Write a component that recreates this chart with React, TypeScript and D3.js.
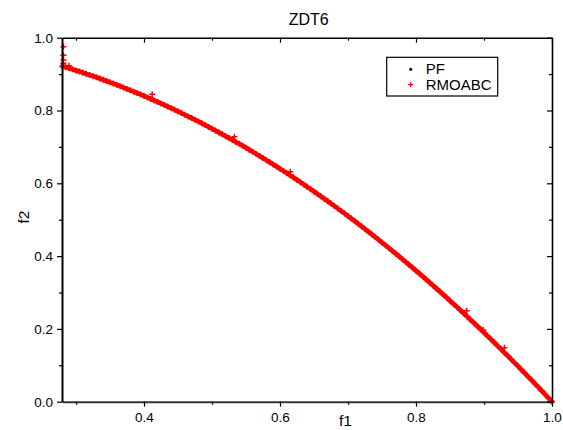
import React, { useEffect, useRef } from "react";
import * as d3 from "d3";

// RMOABC solutions (f1, f2); the first 145 sit on the front
const rmoF1 = [
  0.280, 0.285, 0.290, 0.295, 0.300, 0.305, 0.310, 0.315, 0.320, 0.325,
  0.330, 0.335, 0.340, 0.345, 0.350, 0.355, 0.360, 0.365, 0.370, 0.375,
  0.380, 0.385, 0.390, 0.395, 0.400, 0.405, 0.410, 0.415, 0.420, 0.425,
  0.430, 0.435, 0.440, 0.445, 0.450, 0.455, 0.460, 0.465, 0.470, 0.475,
  0.480, 0.485, 0.490, 0.495, 0.500, 0.505, 0.510, 0.515, 0.520, 0.525,
  0.530, 0.535, 0.540, 0.545, 0.550, 0.555, 0.560, 0.565, 0.570, 0.575,
  0.580, 0.585, 0.590, 0.595, 0.600, 0.605, 0.610, 0.615, 0.620, 0.625,
  0.630, 0.635, 0.640, 0.645, 0.650, 0.655, 0.660, 0.665, 0.670, 0.675,
  0.680, 0.685, 0.690, 0.695, 0.700, 0.705, 0.710, 0.715, 0.720, 0.725,
  0.730, 0.735, 0.740, 0.745, 0.750, 0.755, 0.760, 0.765, 0.770, 0.775,
  0.780, 0.785, 0.790, 0.795, 0.800, 0.805, 0.810, 0.815, 0.820, 0.825,
  0.830, 0.835, 0.840, 0.845, 0.850, 0.855, 0.860, 0.865, 0.870, 0.875,
  0.880, 0.885, 0.890, 0.895, 0.900, 0.905, 0.910, 0.915, 0.920, 0.925,
  0.930, 0.935, 0.940, 0.945, 0.950, 0.955, 0.960, 0.965, 0.970, 0.975,
  0.980, 0.985, 0.990, 0.995, 1.000,
  // stragglers off the front
  0.2815, 0.2815, 0.2815, 0.2815, 0.2897, 0.412, 0.533, 0.615, 0.8745, 0.899, 0.930,
];
const rmoF2 = [
  0.9216, 0.9188, 0.9159, 0.9130, 0.9100, 0.9070, 0.9039, 0.9008, 0.8976, 0.8944,
  0.8911, 0.8878, 0.8844, 0.8810, 0.8775, 0.8740, 0.8704, 0.8668, 0.8631, 0.8594,
  0.8556, 0.8518, 0.8479, 0.8440, 0.8400, 0.8360, 0.8319, 0.8278, 0.8236, 0.8194,
  0.8151, 0.8108, 0.8064, 0.8020, 0.7975, 0.7930, 0.7884, 0.7838, 0.7791, 0.7744,
  0.7696, 0.7648, 0.7599, 0.7550, 0.7500, 0.7450, 0.7399, 0.7348, 0.7296, 0.7244,
  0.7191, 0.7138, 0.7084, 0.7030, 0.6975, 0.6920, 0.6864, 0.6808, 0.6751, 0.6694,
  0.6636, 0.6578, 0.6519, 0.6460, 0.6400, 0.6340, 0.6279, 0.6218, 0.6156, 0.6094,
  0.6031, 0.5968, 0.5904, 0.5840, 0.5775, 0.5710, 0.5644, 0.5578, 0.5511, 0.5444,
  0.5376, 0.5308, 0.5239, 0.5170, 0.5100, 0.5030, 0.4959, 0.4888, 0.4816, 0.4744,
  0.4671, 0.4598, 0.4524, 0.4450, 0.4375, 0.4300, 0.4224, 0.4148, 0.4071, 0.3994,
  0.3916, 0.3838, 0.3759, 0.3680, 0.3600, 0.3520, 0.3439, 0.3358, 0.3276, 0.3194,
  0.3111, 0.3028, 0.2944, 0.2860, 0.2775, 0.2690, 0.2604, 0.2518, 0.2431, 0.2344,
  0.2256, 0.2168, 0.2079, 0.1990, 0.1900, 0.1810, 0.1719, 0.1628, 0.1536, 0.1444,
  0.1351, 0.1258, 0.1164, 0.1070, 0.0975, 0.0880, 0.0784, 0.0688, 0.0591, 0.0494,
  0.0396, 0.0298, 0.0199, 0.0100, 0.0000,
  0.975, 0.952, 0.939, 0.930, 0.923, 0.8445, 0.728, 0.632, 0.250, 0.197, 0.148,
];
const onFront = 145;

// true Pareto front samples (mostly hidden under the red marks)
const pfF1 = [
  0.2808, 0.30, 0.32, 0.34, 0.36, 0.38, 0.40, 0.42, 0.44, 0.46, 0.48, 0.50,
  0.52, 0.54, 0.56, 0.58, 0.60, 0.62, 0.64, 0.66, 0.68, 0.70, 0.72, 0.74,
  0.76, 0.78, 0.80, 0.82, 0.84, 0.86, 0.88, 0.90, 0.92, 0.94, 0.96, 0.98, 1.00,
];
const pfF2 = [
  0.9212, 0.9100, 0.8976, 0.8844, 0.8704, 0.8556, 0.8400, 0.8236, 0.8064, 0.7884, 0.7696, 0.7500,
  0.7296, 0.7084, 0.6864, 0.6636, 0.6400, 0.6156, 0.5904, 0.5644, 0.5376, 0.5100, 0.4816, 0.4524,
  0.4224, 0.3916, 0.3600, 0.3276, 0.2944, 0.2604, 0.2256, 0.1900, 0.1536, 0.1164, 0.0784, 0.0396, 0.0000,
];

const xMajor = [0.4, 0.6, 0.8, 1.0];
const xMinor = [0.3, 0.5, 0.7, 0.9];
const yMajor = [0.0, 0.2, 0.4, 0.6, 0.8, 1.0];
const yMinor = [0.1, 0.3, 0.5, 0.7, 0.9];

const legendNames = ["PF", "RMOABC"];

export default function App() {
  const ref = useRef<SVGSVGElement>(null);

  useEffect(() => {
    const svg = d3.select(ref.current);
    svg.selectAll("*").remove();

    const left = 62, right = 552, top = 37.7, bottom = 401.7;
    const font = "Liberation Sans, Arial, sans-serif";

    const x = d3.scaleLinear().domain([0.2794, 1.0]).range([left, right]);
    const y = d3.scaleLinear().domain([0, 1]).range([bottom, top]);

    // PF (black dots)
    svg.append("g")
      .selectAll("circle")
      .data(pfF1.map((v, i) => [v, pfF2[i]]))
      .join("circle")
      .attr("cx", d => x(d[0]))
      .attr("cy", d => y(d[1]))
      .attr("r", 1.2)
      .attr("fill", "black");

    const rmo = rmoF1.map((v, i) => [v, rmoF2[i]]);

    // the crosses on the front are packed so tight they merge into a band
    svg.append("path")
      .datum(rmo.slice(0, onFront))
      .attr("d", d3.line<number[]>().x(d => x(d[0])).y(d => y(d[1])))
      .attr("fill", "none")
      .attr("stroke", "#ff0000")
      .attr("stroke-width", 4.6)
      .attr("stroke-linecap", "round");

    // RMOABC (red crosses)
    const plus = "M-3,0H3M0,-3V3";
    svg.append("g")
      .selectAll("path")
      .data(rmo)
      .join("path")
      .attr("d", plus)
      .attr("transform", d => `translate(${x(d[0])},${y(d[1])})`)
      .attr("stroke", "#ff0000")
      .attr("stroke-width", 1.5)
      .attr("fill", "none");

    const styleAxis = (g: any, tickFont: boolean) => {
      g.select(".domain").attr("stroke", "#000").attr("stroke-width", 1.6);
      g.selectAll(".tick line").attr("stroke", "#000").attr("stroke-width", 1.2);
      g.selectAll(".tick text")
        .attr("font-family", font)
        .attr("font-size", tickFont ? 13.5 : 0)
        .attr("fill", "#000");
    };

    // bottom axis
    const bx = svg.append("g").attr("transform", `translate(0,${bottom})`)
      .call(d3.axisBottom(x).tickValues(xMajor).tickSize(5).tickSizeOuter(0).tickPadding(6).tickFormat(d3.format(".1f")));
    styleAxis(bx, true);
    bx.select(".domain").attr("stroke", "#333").attr("stroke-width", 2);
    svg.append("g").attr("transform", `translate(0,${bottom})`)
      .call(d3.axisBottom(x).tickValues(xMinor).tickSize(3).tickSizeOuter(0).tickFormat(() => ""))
      .call(g => { g.select(".domain").remove(); g.selectAll(".tick line").attr("stroke-width", 1.2); });

    // left axis
    const ly = svg.append("g").attr("transform", `translate(${left},0)`)
      .call(d3.axisLeft(y).tickValues(yMajor).tickSize(5).tickSizeOuter(0).tickPadding(4).tickFormat(d3.format(".1f")));
    styleAxis(ly, true);
    ly.select(".domain").attr("stroke-width", 2);
    svg.append("g").attr("transform", `translate(${left},0)`)
      .call(d3.axisLeft(y).tickValues(yMinor).tickSize(3).tickSizeOuter(0).tickFormat(() => ""))
      .call(g => { g.select(".domain").remove(); g.selectAll(".tick line").attr("stroke-width", 1.2); });

    // top axis (ticks inward)
    svg.append("g").attr("transform", `translate(0,${top})`)
      .call(d3.axisTop(x).tickValues(xMajor).tickSize(-5).tickSizeOuter(0).tickFormat(() => ""))
      .call(g => styleAxis(g, false));
    svg.append("g").attr("transform", `translate(0,${top})`)
      .call(d3.axisTop(x).tickValues(xMinor).tickSize(-3).tickSizeOuter(0).tickFormat(() => ""))
      .call(g => { g.select(".domain").remove(); g.selectAll(".tick line").attr("stroke-width", 1.2); });

    // right axis (ticks inward)
    svg.append("g").attr("transform", `translate(${right},0)`)
      .call(d3.axisRight(y).tickValues(yMajor).tickSize(-5).tickSizeOuter(0).tickFormat(() => ""))
      .call(g => styleAxis(g, false));
    svg.append("g").attr("transform", `translate(${right},0)`)
      .call(d3.axisRight(y).tickValues(yMinor).tickSize(-3).tickSizeOuter(0).tickFormat(() => ""))
      .call(g => { g.select(".domain").remove(); g.selectAll(".tick line").attr("stroke-width", 1.2); });

    // title and axis labels
    svg.append("text")
      .attr("x", 308.7).attr("y", 25)
      .attr("text-anchor", "middle")
      .attr("font-family", font).attr("font-size", 16)
      .text("ZDT6");

    svg.append("text")
      .attr("x", 345.5).attr("y", 426)
      .attr("text-anchor", "middle")
      .attr("font-family", font).attr("font-size", 15.5)
      .text("f1");

    svg.append("text")
      .attr("transform", "translate(28.5,217) rotate(-90)")
      .attr("text-anchor", "middle")
      .attr("font-family", font).attr("font-size", 15.5)
      .text("f2");

    // legend
    const lg = svg.append("g");
    lg.append("rect")
      .attr("x", 386.7).attr("y", 57.3)
      .attr("width", 111).attr("height", 38.7)
      .attr("fill", "white").attr("stroke", "#000").attr("stroke-width", 1.2);
    lg.append("circle").attr("cx", 410.7).attr("cy", 69.3).attr("r", 1.6).attr("fill", "black");
    lg.append("path").attr("d", "M-2.5,0H2.5M0,-2.5V2.5")
      .attr("transform", "translate(410.7,84.7)")
      .attr("stroke", "#ff0000").attr("stroke-width", 1.3);
    lg.selectAll("text.lbl")
      .data(legendNames)
      .join("text")
      .attr("class", "lbl")
      .attr("x", 425.7)
      .attr("y", (d, i) => 74 + i * 16)
      .attr("font-family", font).attr("font-size", 15)
      .text(d => d);
  }, []);

  return (
    <svg ref={ref} width={563} height={430}
      style={{ position: "absolute", left: 0, top: 0, background: "white" }} />
  );
}
